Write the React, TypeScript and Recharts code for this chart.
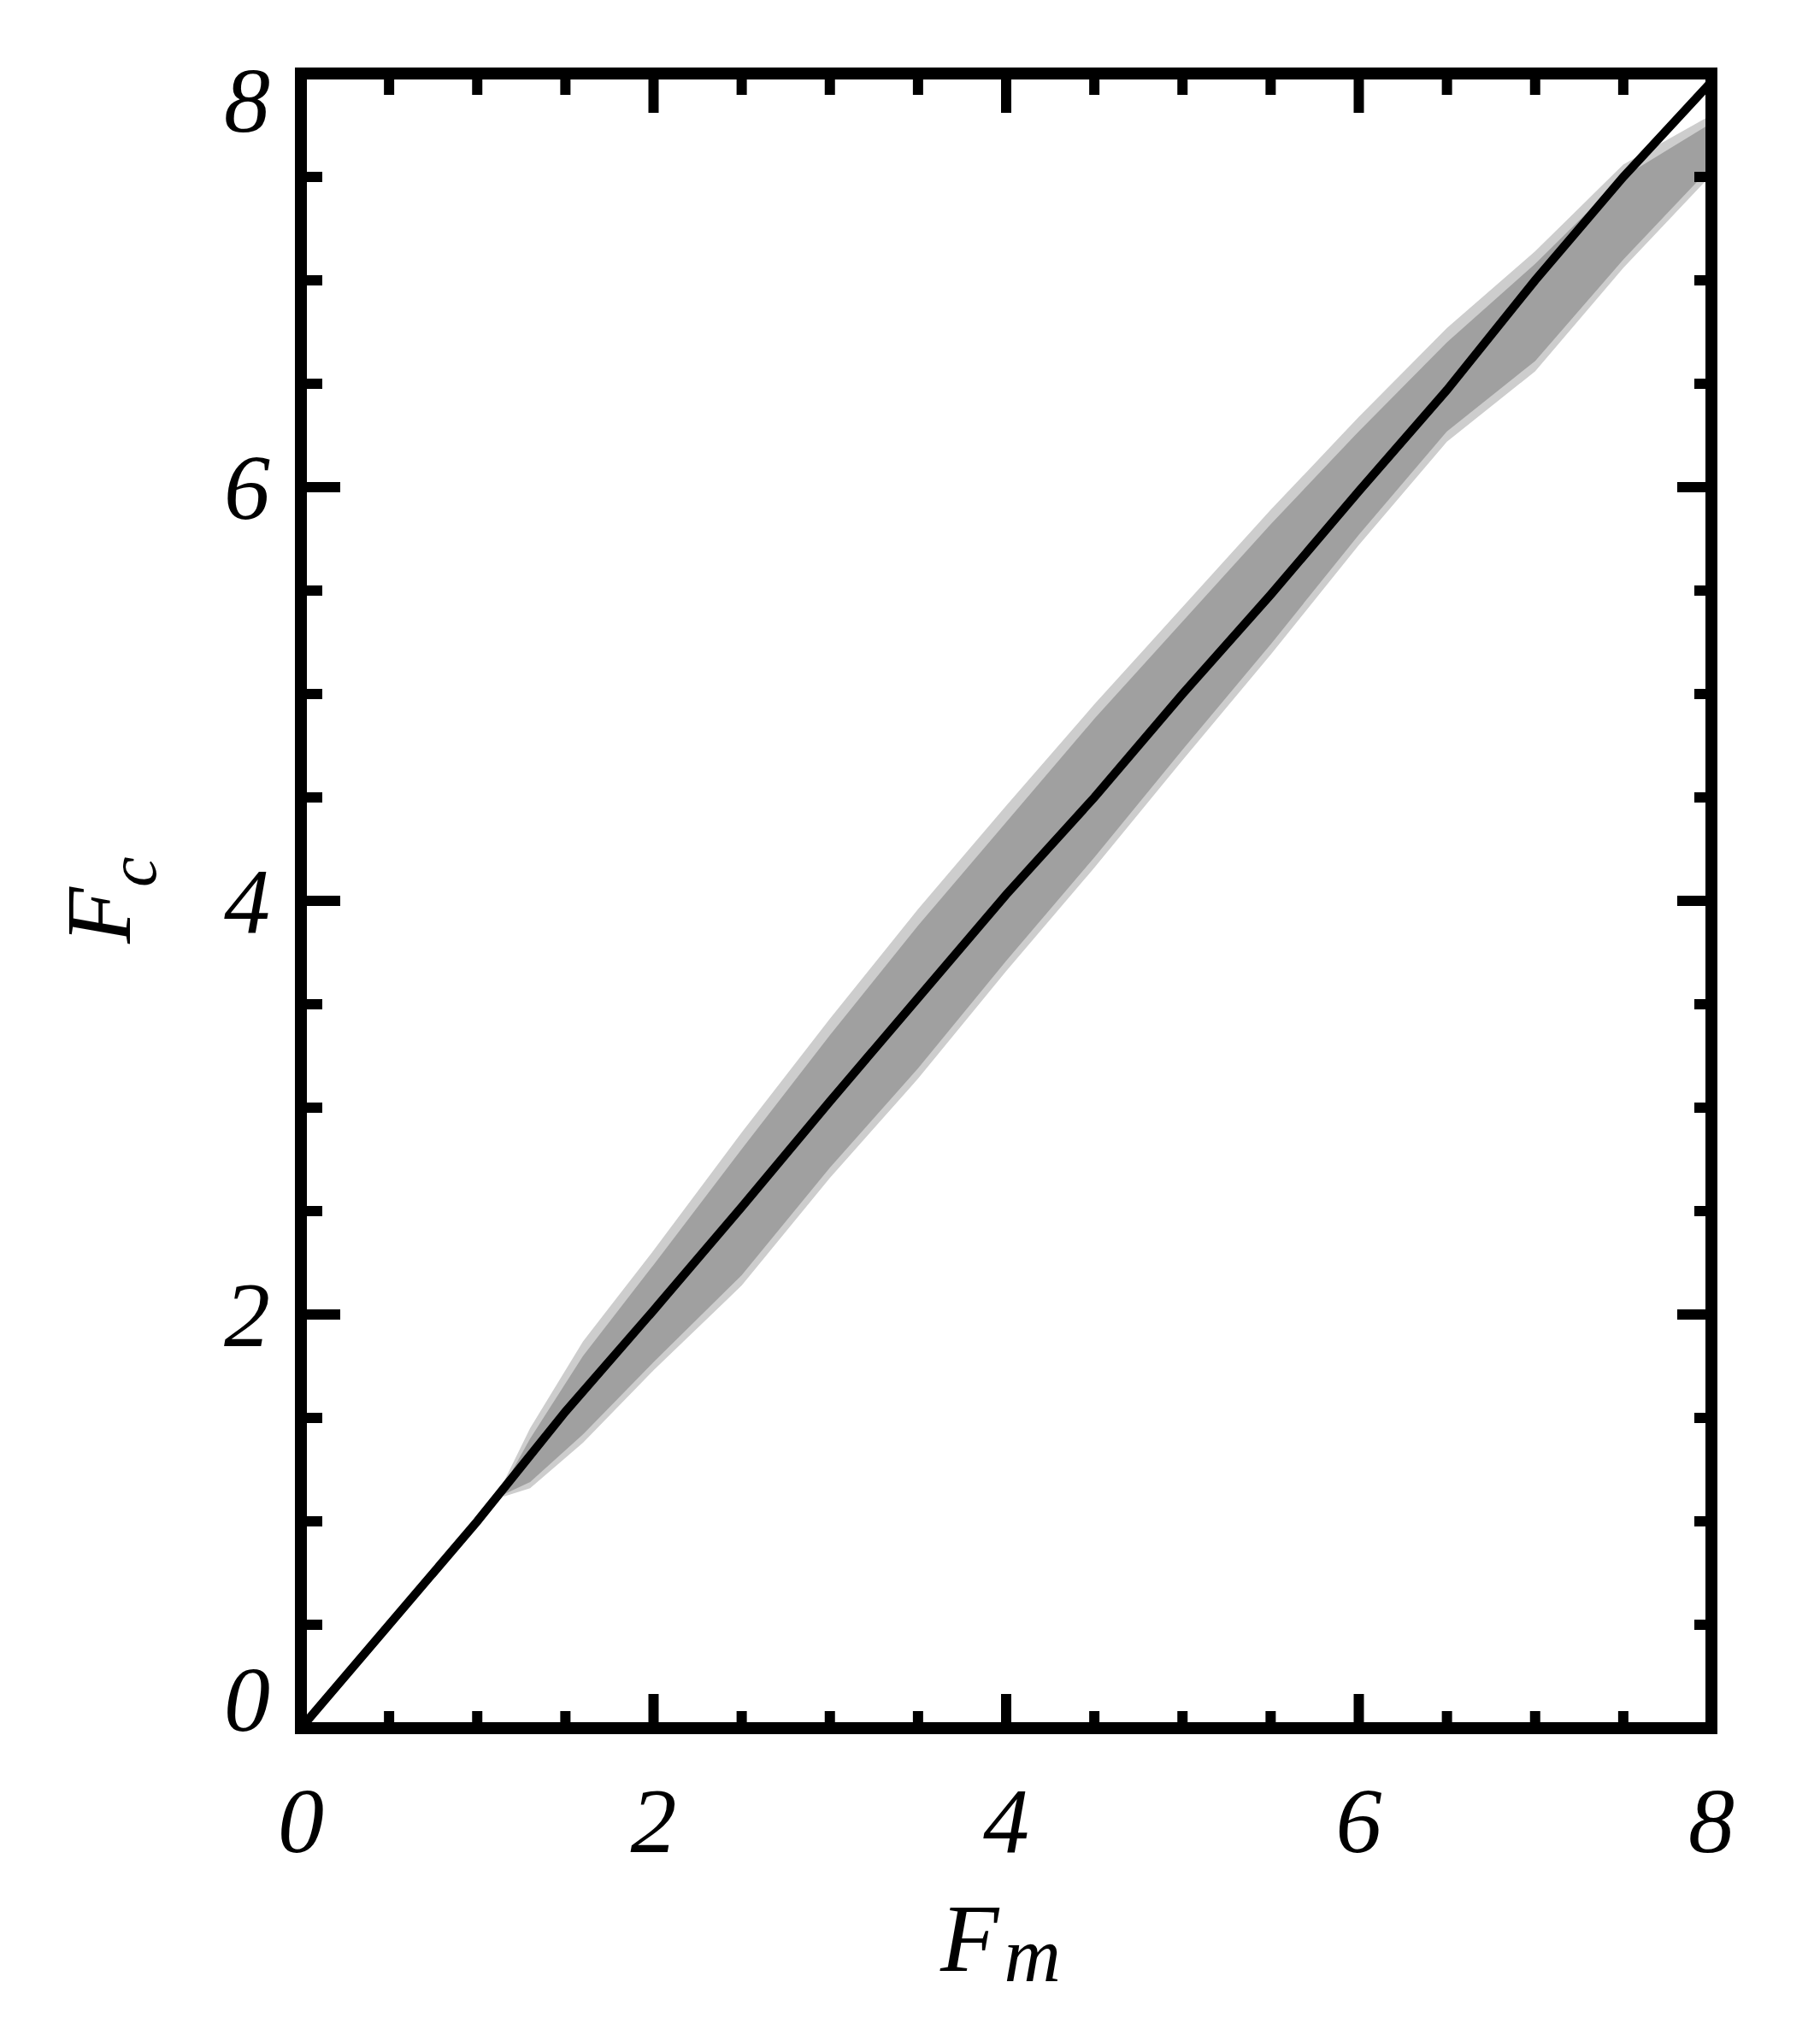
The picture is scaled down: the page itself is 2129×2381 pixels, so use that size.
import { ComposedChart, Line, Area, XAxis, YAxis } from 'recharts'

// black reference line (F_m -> F_c)
const lineF = [0, 0.5, 1, 1.5, 2, 2.5, 3, 3.5, 4, 4.5, 5, 5.5, 6, 6.5, 7, 7.5, 8]
const lineFc = [0, 0.5, 1.0, 1.53, 2.02, 2.52, 3.03, 3.53, 4.03, 4.5, 5.0, 5.48, 5.98, 6.47, 7.0, 7.5, 7.96]

// gray scatter cloud, read as a band: dense core + sparse halo
const bandF = [1.15, 1.3, 1.6, 2.0, 2.5, 3.0, 3.5, 4.0, 4.5, 5.0, 5.5, 6.0, 6.5, 7.0, 7.5, 8.0]
const coreLow = [1.13, 1.19, 1.42, 1.77, 2.19, 2.71, 3.19, 3.71, 4.21, 4.73, 5.24, 5.77, 6.27, 6.61, 7.1, 7.55]
const coreHigh = [1.17, 1.4, 1.8, 2.24, 2.8, 3.35, 3.88, 4.38, 4.88, 5.35, 5.82, 6.27, 6.7, 7.08, 7.5, 7.76]
const haloLow = [1.12, 1.16, 1.38, 1.73, 2.14, 2.66, 3.14, 3.66, 4.16, 4.68, 5.19, 5.72, 6.22, 6.56, 7.06, 7.51]
const haloHigh = [1.19, 1.45, 1.87, 2.31, 2.88, 3.43, 3.96, 4.46, 4.95, 5.42, 5.89, 6.34, 6.77, 7.14, 7.56, 7.8]

const axisTicks = [0, 0.5, 1, 1.5, 2, 2.5, 3, 3.5, 4, 4.5, 5, 5.5, 6, 6.5, 7, 7.5, 8]
const labelValues = [0, 2, 4, 6, 8]

const lineData = lineF.map((f, i) => ({ f, fc: lineFc[i] }))
const coreData = bandF.map((f, i) => ({ f, range: [coreLow[i], coreHigh[i]] }))
const haloData = bandF.map((f, i) => ({ f, range: [haloLow[i], haloHigh[i]] }))

const FONT = '"Liberation Serif", "Times New Roman", serif'
const TICK_W = 12

function BottomTick({ x, y, payload }: any) {
  const v = payload.value
  const major = labelValues.includes(v)
  return (
    <g>
      <line x1={x} y1={y} x2={x} y2={y - (major ? 40 : 20)} stroke="#000" strokeWidth={TICK_W} />
      {major && (
        <text x={x} y={y + 145} textAnchor="middle" fontFamily={FONT} fontStyle="italic" fontSize={108} fill="#000">
          {v}
        </text>
      )}
    </g>
  )
}

function TopTick({ x, y, payload }: any) {
  const major = labelValues.includes(payload.value)
  return <line x1={x} y1={y} x2={x} y2={y + (major ? 46 : 25)} stroke="#000" strokeWidth={TICK_W} />
}

function LeftTick({ x, y, payload }: any) {
  const v = payload.value
  const major = labelValues.includes(v)
  const dy = v === 8 ? 68 : v === 0 ? 3 : 37
  return (
    <g>
      <line x1={x} y1={y} x2={x + (major ? 46 : 25)} y2={y} stroke="#000" strokeWidth={TICK_W} />
      {major && (
        <text x={316} y={y + dy} textAnchor="end" fontFamily={FONT} fontStyle="italic" fontSize={108} fill="#000">
          {v}
        </text>
      )}
    </g>
  )
}

function RightTick({ x, y, payload }: any) {
  const major = labelValues.includes(payload.value)
  return <line x1={x} y1={y} x2={x - (major ? 40 : 20)} y2={y} stroke="#000" strokeWidth={TICK_W} />
}

const frameLine = { stroke: '#000', strokeWidth: 14, strokeLinecap: 'square' as const }

function App() {
  return (
    <div style={{ position: 'absolute', left: 0, top: 0, width: 2129, height: 2381, background: '#fff' }}>
      <ComposedChart width={2129} height={2381} margin={{ top: 66, right: 107, bottom: 259, left: 252 }}>
        <XAxis xAxisId="b" type="number" dataKey="f" domain={[0, 8]} ticks={axisTicks} interval={0}
          allowDataOverflow height={100} tickSize={0} tickMargin={0} tickLine={false}
          axisLine={frameLine} tick={<BottomTick />} />
        <XAxis xAxisId="t" orientation="top" type="number" dataKey="f" domain={[0, 8]} ticks={axisTicks} interval={0}
          allowDataOverflow height={20} tickSize={0} tickMargin={0} tickLine={false}
          axisLine={frameLine} tick={<TopTick />} />
        <YAxis yAxisId="l" type="number" domain={[0, 8]} ticks={axisTicks} interval={0}
          allowDataOverflow width={100} tickSize={0} tickMargin={0} tickLine={false}
          axisLine={frameLine} tick={<LeftTick />} />
        <YAxis yAxisId="r" orientation="right" type="number" domain={[0, 8]} ticks={axisTicks} interval={0}
          allowDataOverflow width={20} tickSize={0} tickMargin={0} tickLine={false}
          axisLine={frameLine} tick={<RightTick />} />

        <Area xAxisId="b" yAxisId="l" data={haloData} dataKey="range" type="linear"
          stroke="none" fill="#cdcdcd" fillOpacity={1} isAnimationActive={false} />
        <Area xAxisId="b" yAxisId="l" data={coreData} dataKey="range" type="linear"
          stroke="none" fill="#a0a0a0" fillOpacity={1} isAnimationActive={false} />
        <Line xAxisId="b" yAxisId="l" data={lineData} dataKey="fc" type="linear"
          stroke="#000" strokeWidth={10} dot={false} isAnimationActive={false} />
        <Line xAxisId="t" yAxisId="r" data={lineData} dataKey="fc" type="linear"
          stroke="none" dot={false} activeDot={false} isAnimationActive={false} />
      </ComposedChart>

      <svg width={2129} height={2381} style={{ position: 'absolute', left: 0, top: 0, pointerEvents: 'none' }}>
        <text x={1100} y={2306} fontFamily={FONT} fontStyle="italic" fontSize={112} fill="#000">
          F<tspan fontSize={92} dx={6} dy={12}>m</tspan>
        </text>
        <text transform="translate(152,1104) rotate(-90)" fontFamily={FONT} fontStyle="italic" fontSize={108} fill="#000">
          F<tspan fontSize={80} dy={30}>c</tspan>
        </text>
      </svg>
    </div>
  )
}

export default App
